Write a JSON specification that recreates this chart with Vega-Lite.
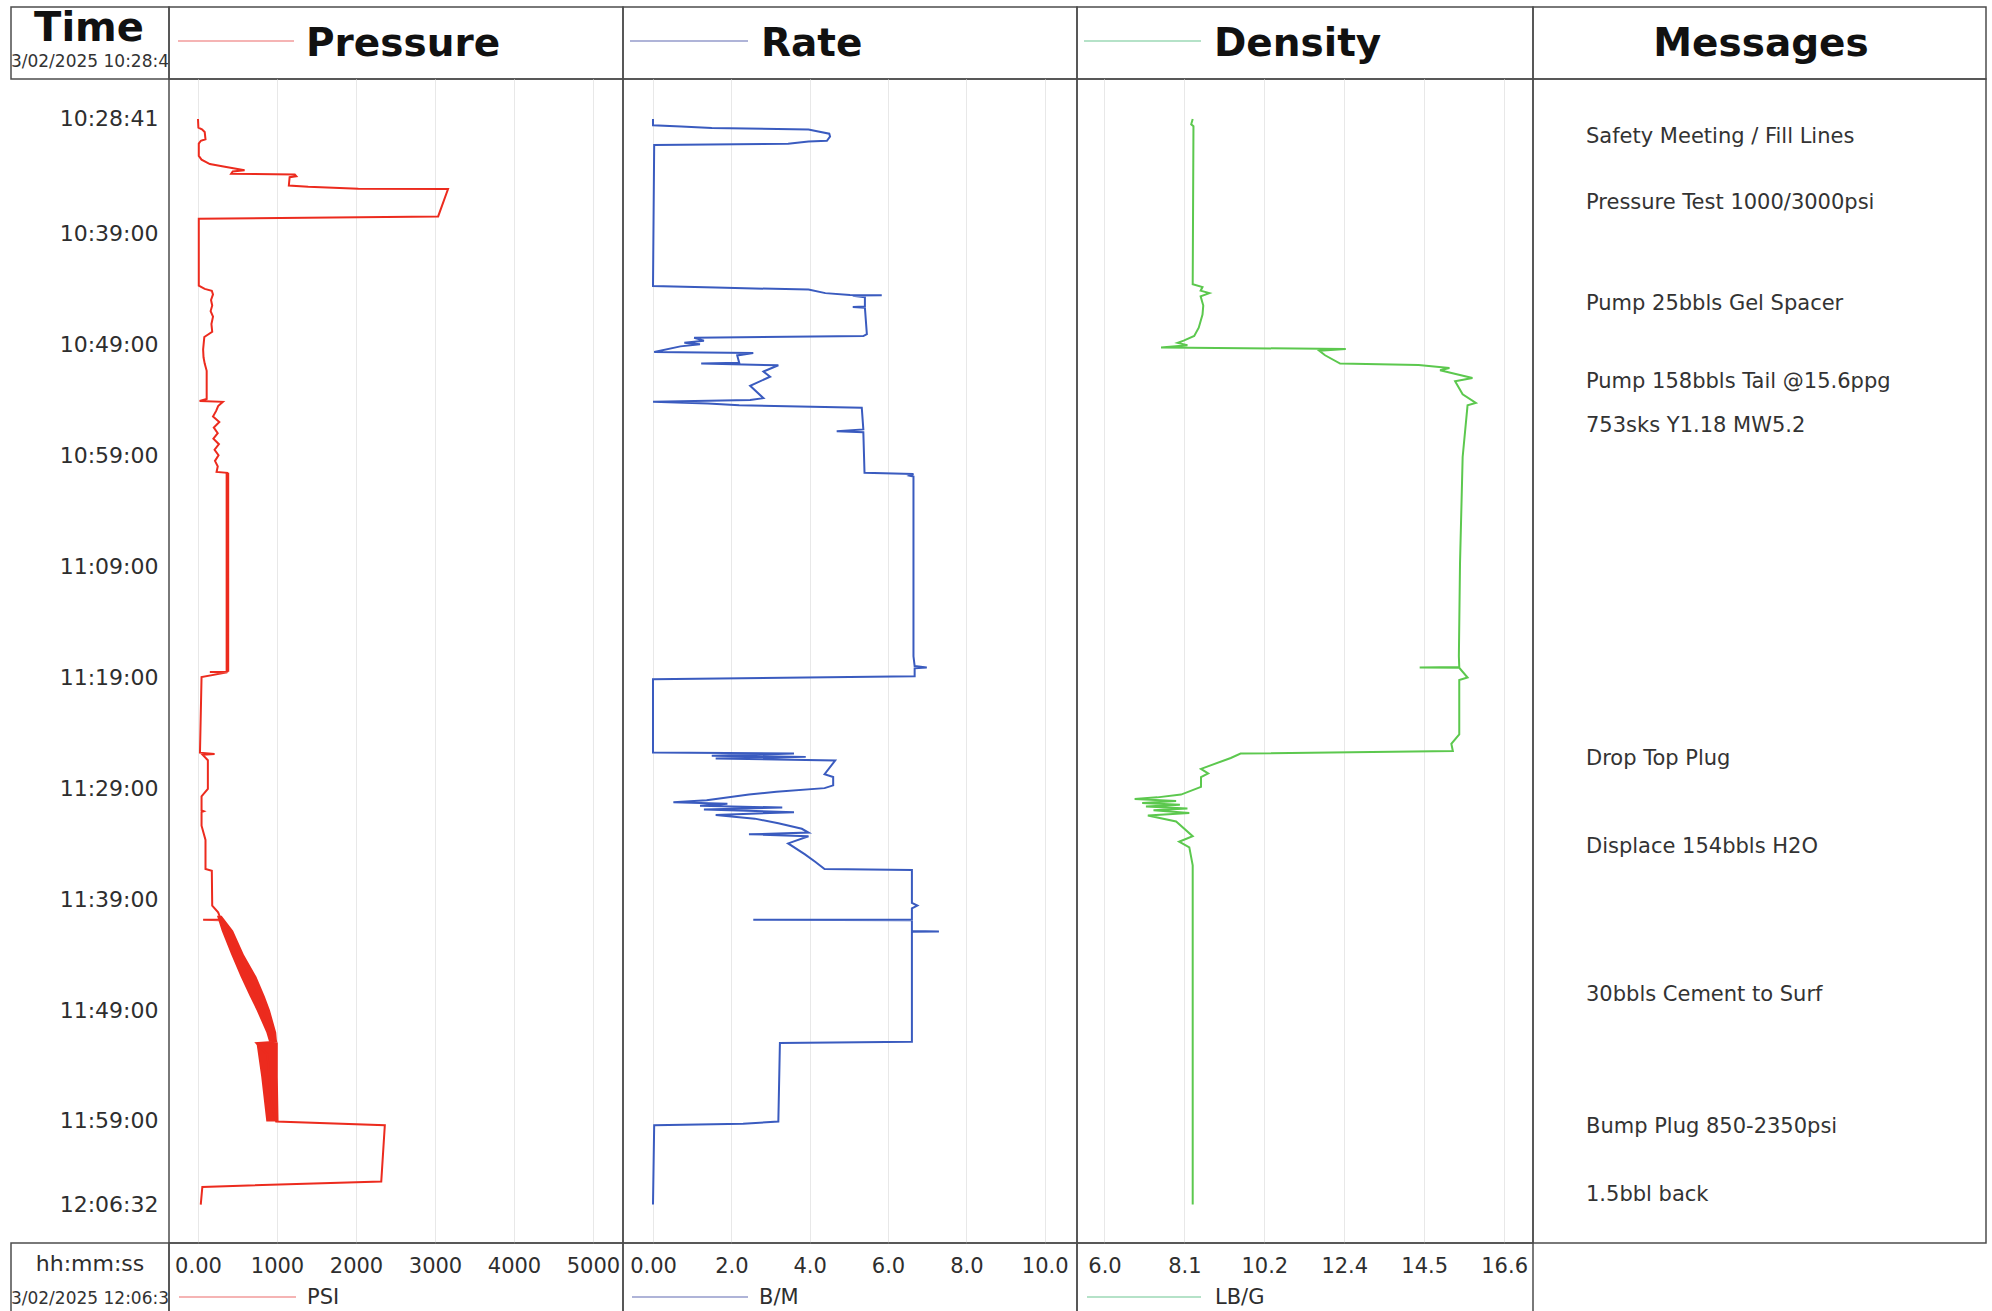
{
  "$schema": "https://vega.github.io/schema/vega-lite/v6.json",
  "background": "white",
  "padding": {"left": 10, "top": 6, "right": 0, "bottom": 0},
  "columns": 5,
  "spacing": 0,
  "bounds": "flush",
  "align": "each",
  "resolve": {"scale": {"x": "independent", "y": "independent"}},
  "config": {
    "view": {"stroke": "#4d4d4d", "strokeWidth": 1.5},
    "font": "DejaVu Sans",
    "text": {"font": "DejaVu Sans"},
    "axis": {"labelFont": "DejaVu Sans"}
  },
  "concat": [
    {
      "width": 158, "height": 72,
      "data": {"values": [{}]},
      "layer": [
        {"mark": {"type": "text", "text": "Time", "align": "center", "baseline": "alphabetic", "fontWeight": "bold", "fontSize": 40, "color": "#111111"},
         "encoding": {"x": {"value": 78}, "y": {"value": 34}}},
        {"mark": {"type": "text", "text": "03/02/2025 10:28:41", "align": "center", "baseline": "middle", "fontSize": 17, "color": "#333333", "clip": true},
         "encoding": {"x": {"value": 79}, "y": {"value": 55}}}
      ]
    },
    {
      "width": 454, "height": 72,
      "data": {"values": [{}]},
      "layer": [
        {"mark": {"type": "rule", "stroke": "#f29b9b", "strokeWidth": 1.3},
         "encoding": {"x": {"value": 9}, "x2": {"value": 125}, "y": {"value": 34}}},
        {"mark": {"type": "text", "text": "Pressure", "align": "left", "baseline": "alphabetic", "fontWeight": "bold", "fontSize": 39, "color": "#111111"},
         "encoding": {"x": {"value": 137}, "y": {"value": 49}}}
      ]
    },
    {
      "width": 454, "height": 72,
      "data": {"values": [{}]},
      "layer": [
        {"mark": {"type": "rule", "stroke": "#949bcb", "strokeWidth": 1.3},
         "encoding": {"x": {"value": 7}, "x2": {"value": 125}, "y": {"value": 34}}},
        {"mark": {"type": "text", "text": "Rate", "align": "left", "baseline": "alphabetic", "fontWeight": "bold", "fontSize": 39, "color": "#111111"},
         "encoding": {"x": {"value": 138}, "y": {"value": 49}}}
      ]
    },
    {
      "width": 456, "height": 72,
      "data": {"values": [{}]},
      "layer": [
        {"mark": {"type": "rule", "stroke": "#9cd9b6", "strokeWidth": 1.3},
         "encoding": {"x": {"value": 7}, "x2": {"value": 124}, "y": {"value": 34}}},
        {"mark": {"type": "text", "text": "Density", "align": "left", "baseline": "alphabetic", "fontWeight": "bold", "fontSize": 39, "color": "#111111"},
         "encoding": {"x": {"value": 137}, "y": {"value": 49}}}
      ]
    },
    {
      "width": 453, "height": 72,
      "data": {"values": [{}]},
      "mark": {"type": "text", "text": "Messages", "align": "center", "baseline": "alphabetic", "fontWeight": "bold", "fontSize": 39, "color": "#111111"},
      "encoding": {"x": {"value": 228}, "y": {"value": 49}}
    },
    {
      "width": 158, "height": 1164,
      "data": {"values": [{}]},
      "mark": {"type": "text", "text": ""},
      "encoding": {}
    },
    {
      "width": 454, "height": 1164,
      "layer": [
        {
          "data": {
            "values": [
              {"seg": "a", "t": "11:00:35", "lo": 350, "hi": 395},
              {"seg": "a", "t": "11:18:30", "lo": 350, "hi": 395},
              {"seg": "b", "t": "11:40:30", "lo": 240, "hi": 300},
              {"seg": "b", "t": "11:41:52", "lo": 300, "hi": 445},
              {"seg": "b", "t": "11:44:00", "lo": 420, "hi": 580},
              {"seg": "b", "t": "11:46:00", "lo": 540, "hi": 740},
              {"seg": "b", "t": "11:47:45", "lo": 655, "hi": 845},
              {"seg": "b", "t": "11:49:00", "lo": 740, "hi": 910},
              {"seg": "b", "t": "11:51:01", "lo": 865, "hi": 990},
              {"seg": "b", "t": "11:51:52", "lo": 900, "hi": 1000},
              {"seg": "c", "t": "11:51:59", "lo": 740, "hi": 1010},
              {"seg": "c", "t": "11:55:00", "lo": 800, "hi": 1010},
              {"seg": "c", "t": "11:59:03", "lo": 865, "hi": 1020}
            ],
            "format": {"parse": {"t": "date:'%H:%M:%S'"}}
          },
          "mark": {"type": "area", "orient": "horizontal", "color": "#ec2b1e", "opacity": 1},
          "encoding": {
            "y": {"field": "t", "type": "temporal",
                  "scale": {"domain": [{"year": 1900, "month": 1, "date": 1, "hours": 10, "minutes": 25, "seconds": 5}, {"year": 1900, "month": 1, "date": 1, "hours": 12, "minutes": 10, "seconds": 0}], "reverse": true, "nice": false},
                  "axis": {
                    "values": [
                      {"year": 1900, "month": 1, "date": 1, "hours": 10, "minutes": 28, "seconds": 41},
                      {"year": 1900, "month": 1, "date": 1, "hours": 10, "minutes": 39, "seconds": 0},
                      {"year": 1900, "month": 1, "date": 1, "hours": 10, "minutes": 49, "seconds": 0},
                      {"year": 1900, "month": 1, "date": 1, "hours": 10, "minutes": 59, "seconds": 0},
                      {"year": 1900, "month": 1, "date": 1, "hours": 11, "minutes": 9, "seconds": 0},
                      {"year": 1900, "month": 1, "date": 1, "hours": 11, "minutes": 19, "seconds": 0},
                      {"year": 1900, "month": 1, "date": 1, "hours": 11, "minutes": 29, "seconds": 0},
                      {"year": 1900, "month": 1, "date": 1, "hours": 11, "minutes": 39, "seconds": 0},
                      {"year": 1900, "month": 1, "date": 1, "hours": 11, "minutes": 49, "seconds": 0},
                      {"year": 1900, "month": 1, "date": 1, "hours": 11, "minutes": 59, "seconds": 0},
                      {"year": 1900, "month": 1, "date": 1, "hours": 12, "minutes": 6, "seconds": 32}
                    ],
                    "format": "%H:%M:%S", "orient": "left", "title": null,
                    "grid": false, "domain": false, "ticks": false, "tickSize": 0,
                    "labelPadding": 11, "labelFontSize": 22, "labelColor": "#2e2e2e",
                    "labelFlush": false, "labelOverlap": false, "labelBound": false
                  }},
            "x": {"field": "lo", "type": "quantitative",
                  "scale": {"domain": [-367, 5380], "nice": false, "zero": false},
                  "axis": {
                    "values": [0, 1000, 2000, 3000, 4000, 5000], "format": "d",
                    "labelExpr": "datum.value == 0 ? '0.00' : datum.label",
                    "orient": "bottom", "title": null,
                    "grid": true, "gridColor": "#e8e8e8", "gridWidth": 1,
                    "domain": false, "ticks": false, "tickSize": 0,
                    "labelPadding": 12, "labelFontSize": 21, "labelColor": "#2e2e2e",
                    "labelFlush": false, "labelOverlap": false, "labelBound": false
                  }},
            "x2": {"field": "hi"},
            "detail": {"field": "seg", "type": "nominal"}
          }
        },
        {
          "data": {
            "values": [
              {"t": "10:28:41", "p": 0}, {"t": "10:29:28", "p": 5}, {"t": "10:29:37", "p": 50},
              {"t": "10:29:52", "p": 85}, {"t": "10:30:31", "p": 95}, {"t": "10:30:39", "p": 36},
              {"t": "10:30:54", "p": 10}, {"t": "10:32:01", "p": 10}, {"t": "10:32:21", "p": 45},
              {"t": "10:32:45", "p": 150}, {"t": "10:32:59", "p": 340}, {"t": "10:33:18", "p": 590},
              {"t": "10:33:25", "p": 440}, {"t": "10:33:37", "p": 420}, {"t": "10:33:41", "p": 1225},
              {"t": "10:33:51", "p": 1245}, {"t": "10:33:56", "p": 1160}, {"t": "10:34:41", "p": 1150},
              {"t": "10:34:48", "p": 1395}, {"t": "10:34:58", "p": 2030}, {"t": "10:35:00", "p": 3165},
              {"t": "10:37:28", "p": 3040}, {"t": "10:37:41", "p": 10}, {"t": "10:43:42", "p": 10},
              {"t": "10:44:00", "p": 85}, {"t": "10:44:10", "p": 175}, {"t": "10:44:30", "p": 190},
              {"t": "10:45:00", "p": 165}, {"t": "10:45:30", "p": 180}, {"t": "10:46:00", "p": 160},
              {"t": "10:46:30", "p": 190}, {"t": "10:47:10", "p": 170}, {"t": "10:47:52", "p": 180},
              {"t": "10:48:20", "p": 80}, {"t": "10:49:28", "p": 65}, {"t": "10:50:10", "p": 70},
              {"t": "10:50:44", "p": 85}, {"t": "10:51:23", "p": 110}, {"t": "10:53:56", "p": 110},
              {"t": "10:54:06", "p": 20}, {"t": "10:54:11", "p": 315}, {"t": "10:54:34", "p": 255},
              {"t": "10:55:00", "p": 230}, {"t": "10:55:30", "p": 190}, {"t": "10:56:00", "p": 270},
              {"t": "10:56:30", "p": 200}, {"t": "10:57:00", "p": 250}, {"t": "10:57:30", "p": 195},
              {"t": "10:58:00", "p": 265}, {"t": "10:58:30", "p": 210}, {"t": "10:59:00", "p": 260},
              {"t": "10:59:30", "p": 215}, {"t": "11:00:00", "p": 250}, {"t": "11:00:30", "p": 235},
              {"t": "11:00:35", "p": 370}, {"t": "11:05:00", "p": 375}, {"t": "11:10:00", "p": 380},
              {"t": "11:15:00", "p": 380}, {"t": "11:18:30", "p": 370}, {"t": "11:18:32", "p": 150},
              {"t": "11:18:34", "p": 370}, {"t": "11:18:59", "p": 45}, {"t": "11:25:48", "p": 25},
              {"t": "11:25:55", "p": 210}, {"t": "11:26:00", "p": 60}, {"t": "11:26:29", "p": 125},
              {"t": "11:29:04", "p": 125}, {"t": "11:29:44", "p": 45}, {"t": "11:31:00", "p": 45},
              {"t": "11:31:05", "p": 75}, {"t": "11:31:10", "p": 45}, {"t": "11:32:23", "p": 45},
              {"t": "11:33:40", "p": 95}, {"t": "11:36:17", "p": 95}, {"t": "11:36:27", "p": 175},
              {"t": "11:39:35", "p": 180}, {"t": "11:40:12", "p": 255}, {"t": "11:40:50", "p": 290},
              {"t": "11:40:52", "p": 65}, {"t": "11:40:54", "p": 290}, {"t": "11:41:52", "p": 370},
              {"t": "11:44:00", "p": 500}, {"t": "11:46:00", "p": 640}, {"t": "11:47:45", "p": 750},
              {"t": "11:49:00", "p": 825}, {"t": "11:51:01", "p": 925}, {"t": "11:51:52", "p": 990},
              {"t": "11:51:59", "p": 740}, {"t": "11:53:00", "p": 880}, {"t": "11:55:00", "p": 900},
              {"t": "11:57:00", "p": 920}, {"t": "11:59:03", "p": 990}, {"t": "11:59:23", "p": 2365},
              {"t": "12:04:27", "p": 2320}, {"t": "12:04:57", "p": 55}, {"t": "12:06:32", "p": 35}
            ],
            "format": {"parse": {"t": "date:'%H:%M:%S'"}}
          },
          "mark": {"type": "line", "color": "#ec2b1e", "strokeWidth": 2},
          "encoding": {
            "y": {"field": "t", "type": "temporal",
                  "scale": {"domain": [{"year": 1900, "month": 1, "date": 1, "hours": 10, "minutes": 25, "seconds": 5}, {"year": 1900, "month": 1, "date": 1, "hours": 12, "minutes": 10, "seconds": 0}], "reverse": true, "nice": false},
                  "axis": {
                    "values": [
                      {"year": 1900, "month": 1, "date": 1, "hours": 10, "minutes": 28, "seconds": 41},
                      {"year": 1900, "month": 1, "date": 1, "hours": 10, "minutes": 39, "seconds": 0},
                      {"year": 1900, "month": 1, "date": 1, "hours": 10, "minutes": 49, "seconds": 0},
                      {"year": 1900, "month": 1, "date": 1, "hours": 10, "minutes": 59, "seconds": 0},
                      {"year": 1900, "month": 1, "date": 1, "hours": 11, "minutes": 9, "seconds": 0},
                      {"year": 1900, "month": 1, "date": 1, "hours": 11, "minutes": 19, "seconds": 0},
                      {"year": 1900, "month": 1, "date": 1, "hours": 11, "minutes": 29, "seconds": 0},
                      {"year": 1900, "month": 1, "date": 1, "hours": 11, "minutes": 39, "seconds": 0},
                      {"year": 1900, "month": 1, "date": 1, "hours": 11, "minutes": 49, "seconds": 0},
                      {"year": 1900, "month": 1, "date": 1, "hours": 11, "minutes": 59, "seconds": 0},
                      {"year": 1900, "month": 1, "date": 1, "hours": 12, "minutes": 6, "seconds": 32}
                    ],
                    "format": "%H:%M:%S", "orient": "left", "title": null,
                    "grid": false, "domain": false, "ticks": false, "tickSize": 0,
                    "labelPadding": 11, "labelFontSize": 22, "labelColor": "#2e2e2e",
                    "labelFlush": false, "labelOverlap": false, "labelBound": false
                  }},
            "x": {"field": "p", "type": "quantitative",
                  "scale": {"domain": [-367, 5380], "nice": false, "zero": false},
                  "axis": {
                    "values": [0, 1000, 2000, 3000, 4000, 5000], "format": "d",
                    "labelExpr": "datum.value == 0 ? '0.00' : datum.label",
                    "orient": "bottom", "title": null,
                    "grid": true, "gridColor": "#e8e8e8", "gridWidth": 1,
                    "domain": false, "ticks": false, "tickSize": 0,
                    "labelPadding": 12, "labelFontSize": 21, "labelColor": "#2e2e2e",
                    "labelFlush": false, "labelOverlap": false, "labelBound": false
                  }},
            "order": {"value": null}
          }
        }
      ]
    },
    {
      "width": 454, "height": 1164,
      "data": {
        "values": [
          {"t": "10:28:41", "r": 0}, {"t": "10:29:15", "r": 0}, {"t": "10:29:22", "r": 0.72},
          {"t": "10:29:30", "r": 1.5}, {"t": "10:29:38", "r": 3.97}, {"t": "10:29:49", "r": 4.22},
          {"t": "10:30:01", "r": 4.5}, {"t": "10:30:16", "r": 4.52}, {"t": "10:30:39", "r": 4.44},
          {"t": "10:30:43", "r": 3.97}, {"t": "10:30:55", "r": 3.45}, {"t": "10:31:02", "r": 0.03},
          {"t": "10:43:44", "r": 0}, {"t": "10:43:53", "r": 1.6}, {"t": "10:44:04", "r": 3.97},
          {"t": "10:44:23", "r": 4.4}, {"t": "10:44:33", "r": 5.03}, {"t": "10:44:35", "r": 5.84},
          {"t": "10:44:37", "r": 5.1}, {"t": "10:44:46", "r": 5.41}, {"t": "10:45:35", "r": 5.41},
          {"t": "10:45:38", "r": 5.1}, {"t": "10:45:42", "r": 5.41}, {"t": "10:48:05", "r": 5.46},
          {"t": "10:48:15", "r": 5.37}, {"t": "10:48:24", "r": 1.05}, {"t": "10:48:40", "r": 1.3},
          {"t": "10:48:52", "r": 0.8}, {"t": "10:49:00", "r": 1.2}, {"t": "10:49:11", "r": 0.7},
          {"t": "10:49:41", "r": 0.03}, {"t": "10:49:47", "r": 2.56}, {"t": "10:50:00", "r": 2.15},
          {"t": "10:50:39", "r": 2.2}, {"t": "10:50:44", "r": 1.23}, {"t": "10:50:53", "r": 3.2},
          {"t": "10:51:27", "r": 2.82}, {"t": "10:51:55", "r": 2.99}, {"t": "10:52:44", "r": 2.48},
          {"t": "10:53:51", "r": 2.82}, {"t": "10:54:01", "r": 2.48}, {"t": "10:54:11", "r": 0},
          {"t": "10:54:20", "r": 1.4}, {"t": "10:54:30", "r": 2.2}, {"t": "10:54:43", "r": 5.33},
          {"t": "10:56:40", "r": 5.37}, {"t": "10:56:50", "r": 4.69}, {"t": "10:56:55", "r": 5.37},
          {"t": "11:00:35", "r": 5.4}, {"t": "11:00:41", "r": 6.65}, {"t": "11:00:50", "r": 6.55},
          {"t": "11:00:55", "r": 6.65}, {"t": "11:17:07", "r": 6.65}, {"t": "11:18:00", "r": 6.68},
          {"t": "11:18:07", "r": 6.99}, {"t": "11:18:12", "r": 6.68}, {"t": "11:18:55", "r": 6.68},
          {"t": "11:19:11", "r": 0}, {"t": "11:25:48", "r": 0}, {"t": "11:25:53", "r": 3.6},
          {"t": "11:26:05", "r": 1.5}, {"t": "11:26:11", "r": 3.9}, {"t": "11:26:20", "r": 1.6},
          {"t": "11:26:31", "r": 4.65}, {"t": "11:27:45", "r": 4.38}, {"t": "11:28:00", "r": 4.6},
          {"t": "11:28:45", "r": 4.6}, {"t": "11:29:00", "r": 4.38}, {"t": "11:29:20", "r": 3.15},
          {"t": "11:29:35", "r": 2.45}, {"t": "11:30:05", "r": 1.37}, {"t": "11:30:17", "r": 0.52},
          {"t": "11:30:25", "r": 1.9}, {"t": "11:30:35", "r": 1.2}, {"t": "11:30:45", "r": 3.3},
          {"t": "11:30:55", "r": 1.3}, {"t": "11:31:10", "r": 3.6}, {"t": "11:31:25", "r": 1.6},
          {"t": "11:31:45", "r": 2.6}, {"t": "11:32:10", "r": 3.2}, {"t": "11:32:40", "r": 3.8},
          {"t": "11:33:00", "r": 3.97}, {"t": "11:33:10", "r": 2.45}, {"t": "11:33:20", "r": 3.97},
          {"t": "11:33:59", "r": 3.45}, {"t": "11:34:58", "r": 3.88}, {"t": "11:35:38", "r": 4.14},
          {"t": "11:36:17", "r": 4.38}, {"t": "11:36:23", "r": 6.61}, {"t": "11:39:20", "r": 6.61},
          {"t": "11:39:35", "r": 6.75}, {"t": "11:39:50", "r": 6.61}, {"t": "11:40:50", "r": 6.61},
          {"t": "11:40:52", "r": 2.56}, {"t": "11:40:54", "r": 6.61}, {"t": "11:41:53", "r": 6.61},
          {"t": "11:41:55", "r": 7.3}, {"t": "11:41:57", "r": 6.61}, {"t": "11:51:52", "r": 6.61},
          {"t": "11:51:59", "r": 3.24}, {"t": "11:59:03", "r": 3.2}, {"t": "11:59:15", "r": 2.3},
          {"t": "11:59:23", "r": 0.03}, {"t": "12:06:32", "r": 0}
        ],
        "format": {"parse": {"t": "date:'%H:%M:%S'"}}
      },
      "mark": {"type": "line", "color": "#3a5bbf", "strokeWidth": 2},
      "encoding": {
        "y": {"field": "t", "type": "temporal", "axis": null,
              "scale": {"domain": [{"year": 1900, "month": 1, "date": 1, "hours": 10, "minutes": 25, "seconds": 5}, {"year": 1900, "month": 1, "date": 1, "hours": 12, "minutes": 10, "seconds": 0}], "reverse": true, "nice": false}},
        "x": {"field": "r", "type": "quantitative",
              "scale": {"domain": [-0.766, 10.825], "nice": false, "zero": false},
              "axis": {
                "values": [0, 2, 4, 6, 8, 10], "format": ".1f",
                "labelExpr": "datum.value == 0 ? '0.00' : datum.label",
                "orient": "bottom", "title": null,
                "grid": true, "gridColor": "#e8e8e8", "gridWidth": 1,
                "domain": false, "ticks": false, "tickSize": 0,
                "labelPadding": 12, "labelFontSize": 21, "labelColor": "#2e2e2e",
                "labelFlush": false, "labelOverlap": false, "labelBound": false
              }},
        "order": {"value": null}
      }
    },
    {
      "width": 456, "height": 1164,
      "data": {
        "values": [
          {"t": "10:28:41", "d": 8.34}, {"t": "10:29:10", "d": 8.3}, {"t": "10:29:20", "d": 8.36},
          {"t": "10:43:35", "d": 8.34}, {"t": "10:43:50", "d": 8.6}, {"t": "10:44:10", "d": 8.55},
          {"t": "10:44:23", "d": 8.78}, {"t": "10:44:40", "d": 8.55}, {"t": "10:45:30", "d": 8.62},
          {"t": "10:46:19", "d": 8.6}, {"t": "10:47:30", "d": 8.5}, {"t": "10:48:15", "d": 8.38},
          {"t": "10:48:40", "d": 8.1}, {"t": "10:48:52", "d": 7.94}, {"t": "10:49:05", "d": 8.2},
          {"t": "10:49:17", "d": 7.5}, {"t": "10:49:25", "d": 12.4}, {"t": "10:49:35", "d": 11.7},
          {"t": "10:49:59", "d": 11.85}, {"t": "10:50:44", "d": 12.25}, {"t": "10:50:52", "d": 14.33},
          {"t": "10:51:08", "d": 15.15}, {"t": "10:51:20", "d": 14.9}, {"t": "10:52:02", "d": 15.76},
          {"t": "10:52:20", "d": 15.3}, {"t": "10:53:30", "d": 15.5}, {"t": "10:54:17", "d": 15.85},
          {"t": "10:54:30", "d": 15.63}, {"t": "10:59:09", "d": 15.5}, {"t": "11:08:47", "d": 15.43},
          {"t": "11:17:07", "d": 15.4}, {"t": "11:18:05", "d": 15.41}, {"t": "11:18:07", "d": 14.36},
          {"t": "11:18:09", "d": 15.41}, {"t": "11:19:02", "d": 15.63}, {"t": "11:19:15", "d": 15.41},
          {"t": "11:24:10", "d": 15.41}, {"t": "11:25:00", "d": 15.2}, {"t": "11:25:39", "d": 15.24},
          {"t": "11:25:53", "d": 9.61}, {"t": "11:26:17", "d": 9.35}, {"t": "11:27:16", "d": 8.56},
          {"t": "11:27:40", "d": 8.75}, {"t": "11:28:00", "d": 8.56}, {"t": "11:28:53", "d": 8.56},
          {"t": "11:29:35", "d": 8.03}, {"t": "11:29:50", "d": 7.4}, {"t": "11:29:59", "d": 6.8},
          {"t": "11:30:10", "d": 7.9}, {"t": "11:30:20", "d": 7.0}, {"t": "11:30:30", "d": 8.0},
          {"t": "11:30:40", "d": 7.1}, {"t": "11:30:50", "d": 8.2}, {"t": "11:31:00", "d": 7.3},
          {"t": "11:31:15", "d": 8.25}, {"t": "11:31:28", "d": 7.15}, {"t": "11:32:00", "d": 7.9},
          {"t": "11:33:20", "d": 8.34}, {"t": "11:33:50", "d": 7.98}, {"t": "11:34:20", "d": 8.25},
          {"t": "11:35:58", "d": 8.34}, {"t": "12:06:32", "d": 8.34}
        ],
        "format": {"parse": {"t": "date:'%H:%M:%S'"}}
      },
      "mark": {"type": "line", "color": "#5cc84e", "strokeWidth": 2},
      "encoding": {
        "y": {"field": "t", "type": "temporal", "axis": null,
              "scale": {"domain": [{"year": 1900, "month": 1, "date": 1, "hours": 10, "minutes": 25, "seconds": 5}, {"year": 1900, "month": 1, "date": 1, "hours": 12, "minutes": 10, "seconds": 0}], "reverse": true, "nice": false}},
        "x": {"field": "d", "type": "quantitative",
              "scale": {"domain": [5.271, 17.366], "nice": false, "zero": false},
              "axis": {
                "values": [6, 8.12, 10.24, 12.36, 14.48, 16.6], "format": ".1f",
                "orient": "bottom", "title": null,
                "grid": true, "gridColor": "#e8e8e8", "gridWidth": 1,
                "domain": false, "ticks": false, "tickSize": 0,
                "labelPadding": 12, "labelFontSize": 21, "labelColor": "#2e2e2e",
                "labelFlush": false, "labelOverlap": false, "labelBound": false
              }},
        "order": {"value": null}
      }
    },
    {
      "width": 453, "height": 1164,
      "data": {
        "values": [
          {"t": "10:30:18", "msg": "Safety Meeting / Fill Lines"},
          {"t": "10:36:15", "msg": "Pressure Test 1000/3000psi"},
          {"t": "10:45:24", "msg": "Pump 25bbls Gel Spacer"},
          {"t": "10:52:23", "msg": "Pump 158bbls Tail @15.6ppg"},
          {"t": "10:56:23", "msg": "753sks Y1.18 MW5.2"},
          {"t": "11:26:23", "msg": "Drop Top Plug"},
          {"t": "11:34:17", "msg": "Displace 154bbls H2O"},
          {"t": "11:47:40", "msg": "30bbls Cement to Surf"},
          {"t": "11:59:35", "msg": "Bump Plug 850-2350psi"},
          {"t": "12:05:39", "msg": "1.5bbl back"}
        ],
        "format": {"parse": {"t": "date:'%H:%M:%S'"}}
      },
      "mark": {"type": "text", "align": "left", "baseline": "middle", "fontSize": 21, "color": "#333333"},
      "encoding": {
        "y": {"field": "t", "type": "temporal", "axis": null,
              "scale": {"domain": [{"year": 1900, "month": 1, "date": 1, "hours": 10, "minutes": 25, "seconds": 5}, {"year": 1900, "month": 1, "date": 1, "hours": 12, "minutes": 10, "seconds": 0}], "reverse": true, "nice": false}},
        "x": {"value": 53},
        "text": {"field": "msg", "type": "nominal"}
      }
    },
    {
      "width": 158, "height": 75,
      "data": {"values": [{}]},
      "layer": [
        {"mark": {"type": "text", "text": "hh:mm:ss", "align": "center", "baseline": "middle", "fontSize": 22, "color": "#2e2e2e"},
         "encoding": {"x": {"value": 79}, "y": {"value": 21}}},
        {"mark": {"type": "text", "text": "03/02/2025 12:06:32", "align": "center", "baseline": "middle", "fontSize": 17, "color": "#333333", "clip": true},
         "encoding": {"x": {"value": 79}, "y": {"value": 56}}}
      ]
    },
    {
      "width": 454, "height": 75,
      "data": {"values": [{}]},
      "layer": [
        {"mark": {"type": "rule", "stroke": "#f29b9b", "strokeWidth": 1.3},
         "encoding": {"x": {"value": 10}, "x2": {"value": 127}, "y": {"value": 54}}},
        {"mark": {"type": "text", "text": "PSI", "align": "left", "baseline": "middle", "fontSize": 21, "color": "#2e2e2e"},
         "encoding": {"x": {"value": 138}, "y": {"value": 55}}}
      ]
    },
    {
      "width": 454, "height": 75,
      "data": {"values": [{}]},
      "layer": [
        {"mark": {"type": "rule", "stroke": "#949bcb", "strokeWidth": 1.3},
         "encoding": {"x": {"value": 9}, "x2": {"value": 125}, "y": {"value": 54}}},
        {"mark": {"type": "text", "text": "B/M", "align": "left", "baseline": "middle", "fontSize": 21, "color": "#2e2e2e"},
         "encoding": {"x": {"value": 136}, "y": {"value": 55}}}
      ]
    },
    {
      "width": 456, "height": 75,
      "data": {"values": [{}]},
      "layer": [
        {"mark": {"type": "rule", "stroke": "#9cd9b6", "strokeWidth": 1.3},
         "encoding": {"x": {"value": 10}, "x2": {"value": 124}, "y": {"value": 54}}},
        {"mark": {"type": "text", "text": "LB/G", "align": "left", "baseline": "middle", "fontSize": 21, "color": "#2e2e2e"},
         "encoding": {"x": {"value": 138}, "y": {"value": 55}}}
      ]
    },
    {
      "width": 453, "height": 75,
      "data": {"values": [{}]},
      "mark": {"type": "text", "text": ""},
      "encoding": {}
    }
  ]
}
